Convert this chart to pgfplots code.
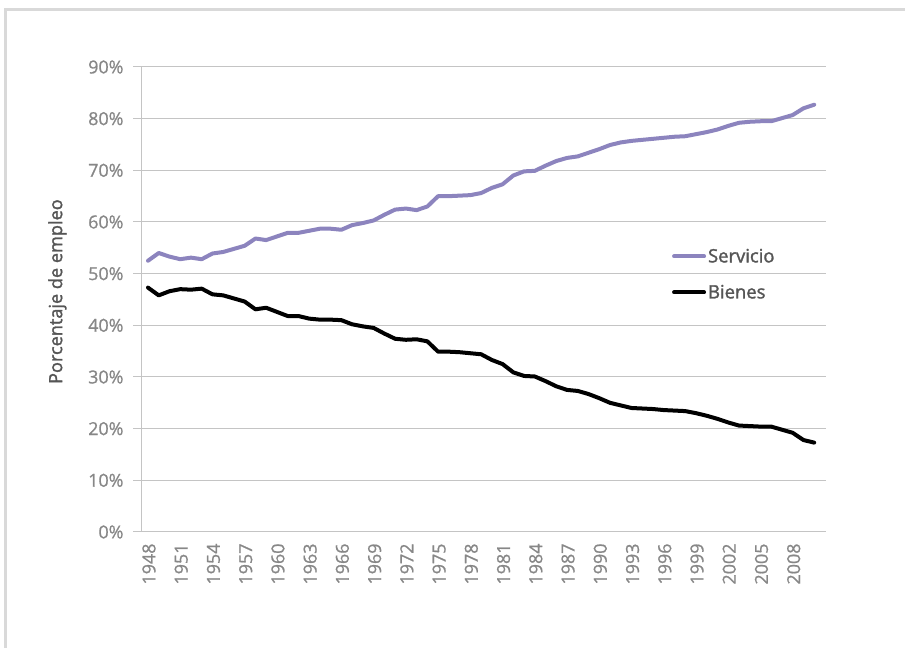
\documentclass[border=0pt]{standalone}
\usepackage{fontspec}
\setmainfont{Open Sans}
\newfontfamily\semib[FakeBold=1.6]{Open Sans}
\newfontfamily\tickf[FakeBold=0.9]{Open Sans}
\usepackage{pgfplots}
\usepackage{pgfplotstable}
\pgfplotsset{compat=1.18}
\definecolor{servcol}{RGB}{140,132,190}
\definecolor{gridgray}{RGB}{196,196,196}
\definecolor{tickgray}{RGB}{135,135,135}
\definecolor{labgray}{RGB}{85,85,85}
\definecolor{framegray}{RGB}{217,217,217}

\pgfplotstableread{
year servicio bienes
1948 52.5 47.3
1949 54.0 45.8
1950 53.3 46.6
1951 52.8 47.0
1952 53.1 46.9
1953 52.8 47.1
1954 53.9 46.0
1955 54.2 45.8
1956 54.8 45.2
1957 55.4 44.6
1958 56.8 43.1
1959 56.5 43.4
1960 57.2 42.6
1961 57.9 41.8
1962 57.9 41.8
1963 58.3 41.3
1964 58.7 41.1
1965 58.7 41.1
1966 58.5 41.0
1967 59.4 40.2
1968 59.8 39.8
1969 60.3 39.5
1970 61.4 38.4
1971 62.4 37.4
1972 62.6 37.2
1973 62.3 37.3
1974 63.0 36.9
1975 65.0 34.9
1976 65.0 34.9
1977 65.1 34.8
1978 65.2 34.6
1979 65.6 34.4
1980 66.6 33.3
1981 67.3 32.5
1982 69.0 30.9
1983 69.8 30.2
1984 69.9 30.1
1985 70.9 29.2
1986 71.8 28.2
1987 72.4 27.5
1988 72.7 27.3
1989 73.4 26.7
1990 74.1 25.9
1991 74.9 25.0
1992 75.4 24.5
1993 75.7 24.0
1994 75.9 23.9
1995 76.1 23.8
1996 76.3 23.6
1997 76.5 23.5
1998 76.6 23.4
1999 77.0 23.0
2000 77.4 22.5
2001 77.9 21.9
2002 78.6 21.2
2003 79.2 20.6
2004 79.4 20.5
2005 79.5 20.4
2006 79.5 20.4
2007 80.1 19.8
2008 80.7 19.2
2009 82.0 17.8
2010 82.7 17.3
}\datatable

\begin{document}
\begin{tikzpicture}
\useasboundingbox (0,0) rectangle (905bp,648bp);
\fill[framegray] (4bp,0bp) rectangle (7bp,640bp);
\fill[framegray] (4bp,637bp) rectangle (905bp,640bp);
\begin{axis}[
  at={(141bp,116bp)}, anchor=south west,
  scale only axis, width=685bp, height=465bp,
  xmin=1947.35, xmax=2011.1,
  ymin=0, ymax=90,
  ytick={0,10,...,90},
  xtick={1948,1951,...,2008},
  yticklabel={\pgfmathprintnumber{\tick}\%},
  /pgf/number format/assume math mode=true,
  /pgf/number format/1000 sep={},
  axis x line=bottom, axis y line=left,
  axis line style={-, draw=gridgray, line width=1bp},
  ymajorgrids, grid style={draw=gridgray, line width=1bp},
  major tick length=8bp, tick align=outside,
  ytick style={draw=gridgray, line width=1bp},
  xtick style={draw=none},
  tick label style={font=\tickf\fontsize{18}{20}\selectfont, text=tickgray},
  xticklabel style={rotate=90, anchor=east, yshift=-1bp},
  yticklabel style={anchor=east, xshift=-6bp},
  ylabel={Porcentaje de empleo},
  ylabel style={at={(axis description cs:-0.122,0.517)}, anchor=center, font=\semib\fontsize{18.2}{20}\selectfont, text=labgray},
  legend style={at={(axis description cs:0.775,0.554)}, anchor=west, draw=none, fill=none, inner sep=0pt,
    font=\semib\fontsize{18.5}{21}\selectfont, text=labgray, row sep=17bp, nodes={inner sep=2bp}},
  legend cell align=left,
  legend image code/.code={\draw[#1, line width=4bp] (0bp,0bp) -- (30bp,0bp);},
]
\addplot[servcol, line width=4bp, line join=round, line cap=round] table[x=year, y=servicio] {\datatable};
\addlegendentry{Servicio}
\addplot[black, line width=4bp, line join=round, line cap=round] table[x=year, y=bienes] {\datatable};
\addlegendentry{Bienes}
\end{axis}
\end{tikzpicture}
\end{document}
